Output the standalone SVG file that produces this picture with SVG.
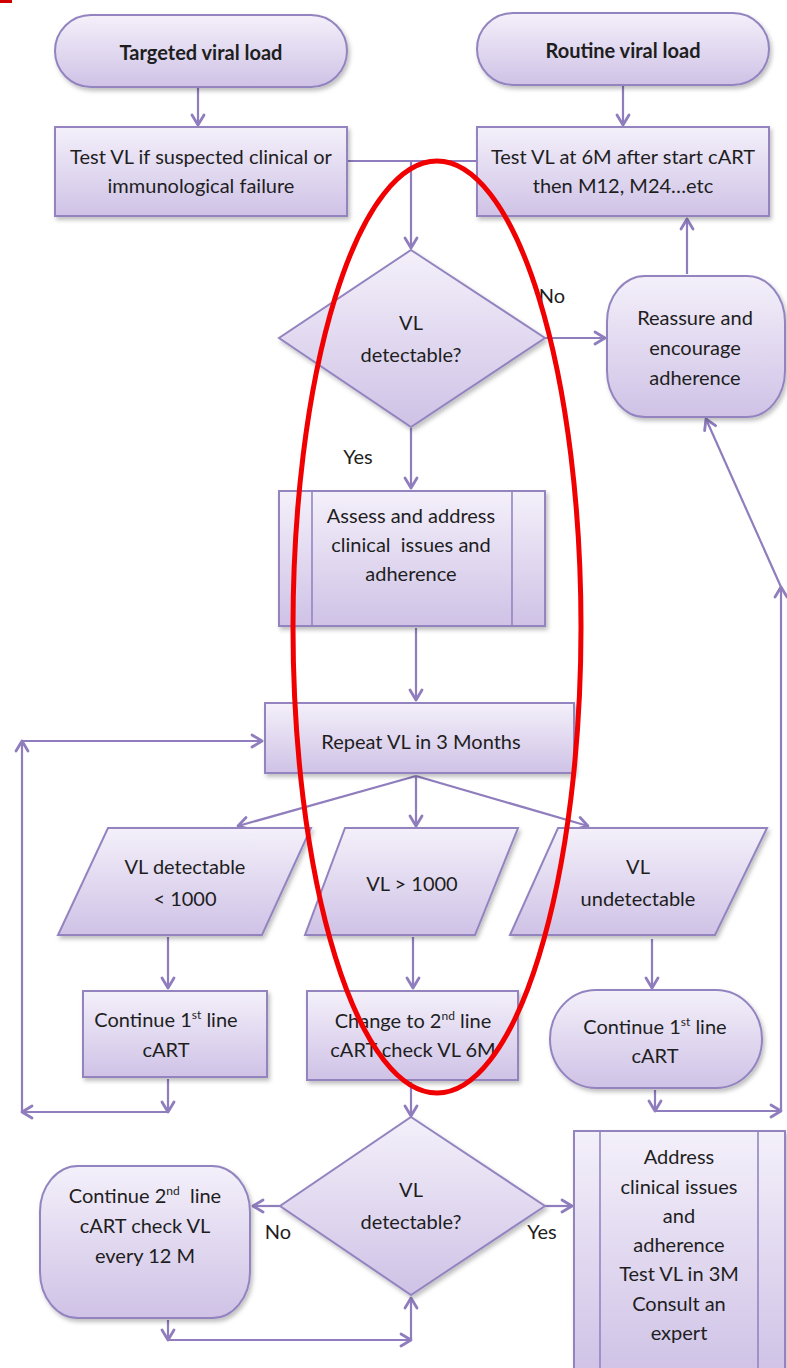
<svg xmlns="http://www.w3.org/2000/svg" width="787" height="1368" viewBox="0 0 787 1368">
<style>
.n{fill:url(#g);stroke:#9384c0;stroke-width:2;filter:url(#sh)}
.t{font-family:Lato,"Liberation Sans",sans-serif;font-size:20px;fill:#1e1e1e;text-anchor:middle}
.b{font-weight:bold}
.p{white-space:pre}
.c{fill:none;stroke:#8f7dbd;stroke-width:2.2}
.a{marker-end:url(#arr)}
.in{fill:none;stroke:#9384c0;stroke-width:1.6}
</style>
<defs>
<linearGradient id="g" x1="0" y1="0" x2="0" y2="1">
<stop offset="0" stop-color="#f4f0fa"/>
<stop offset="1" stop-color="#cfc2e6"/>
</linearGradient>
<filter id="sh" x="-10%" y="-10%" width="130%" height="130%">
<feDropShadow dx="2" dy="3" stdDeviation="2" flood-color="#000" flood-opacity="0.25"/>
</filter>
<marker id="arr" viewBox="0 0 16 16" markerWidth="16" markerHeight="16" refX="13" refY="8" orient="auto" markerUnits="userSpaceOnUse">
<path d="M3,2 L13,8 L3,14" fill="none" stroke="#8f7dbd" stroke-width="2.8" stroke-linecap="round" stroke-linejoin="round"/>
</marker>
</defs>
<rect width="787" height="1368" fill="#fff"/>
<rect x="0" y="0" width="12" height="3" fill="#d00000"/>

<g id="connectors">
<line class="c a" x1="198" y1="88" x2="198" y2="125"/>
<line class="c a" x1="623" y1="86" x2="623" y2="125"/>
<polyline class="c" points="347,161 477,161"/>
<line class="c a" x1="411" y1="161" x2="411" y2="248"/>
<line class="c a" x1="545" y1="338" x2="605" y2="338"/>
<line class="c a" x1="687" y1="274" x2="687" y2="219"/>
<line class="c a" x1="411" y1="428" x2="411" y2="488"/>
<line class="c a" x1="416" y1="628" x2="416" y2="700"/>
<line class="c a" x1="416" y1="776" x2="238" y2="826"/>
<line class="c a" x1="416" y1="776" x2="416" y2="826"/>
<line class="c a" x1="416" y1="776" x2="588" y2="826"/>
<line class="c a" x1="168" y1="937" x2="168" y2="988"/>
<line class="c a" x1="413" y1="937" x2="413" y2="988"/>
<line class="c a" x1="652" y1="939" x2="652" y2="988"/>
<line class="c a" x1="168" y1="1079" x2="168" y2="1112"/>
<line class="c a" x1="168" y1="1112" x2="22" y2="1112"/>
<line class="c a" x1="22" y1="1112" x2="22" y2="741"/>
<line class="c a" x1="22" y1="741" x2="262" y2="741"/>
<line class="c a" x1="655" y1="1090" x2="655" y2="1111"/>
<line class="c a" x1="655" y1="1111" x2="781" y2="1111"/>
<line class="c a" x1="781" y1="1111" x2="781" y2="587"/>
<line class="c a" x1="781" y1="587" x2="706" y2="419"/>
<line class="c a" x1="411" y1="1082" x2="411" y2="1116"/>
<line class="c a" x1="280" y1="1206" x2="253" y2="1206"/>
<line class="c a" x1="545" y1="1206" x2="572" y2="1206"/>
<line class="c a" x1="168" y1="1320" x2="168" y2="1340"/>
<line class="c a" x1="168" y1="1340" x2="411" y2="1340"/>
<line class="c a" x1="411" y1="1340" x2="411" y2="1298"/>
</g>

<g id="n_targeted">
<rect class="n" x="55" y="15" width="292" height="72" rx="36"/>
<text class="t b" x="201" y="60">Targeted viral load</text>
</g>
<g id="n_routine">
<rect class="n" x="477" y="13" width="292" height="72" rx="36"/>
<text class="t b" x="623" y="58">Routine viral load</text>
</g>
<g id="n_testvl_targeted">
<rect class="n" x="55" y="127" width="292" height="89"/>
<text class="t" x="201" y="164">Test VL if suspected clinical or</text>
<text class="t" x="201" y="193">immunological failure</text>
</g>
<g id="n_testvl_routine">
<rect class="n" x="477" y="127" width="292" height="89"/>
<text class="t" x="623" y="164">Test VL at 6M after start cART</text>
<text class="t" x="623" y="193">then M12, M24…etc</text>
</g>
<g id="n_diamond1">
<polygon class="n" points="411,250 545,338 411,427 279,338"/>
<text class="t" x="411" y="330">VL</text>
<text class="t" x="411" y="362">detectable?</text>
</g>
<text class="t" x="552" y="303">No</text>
<text class="t" x="358" y="464">Yes</text>
<g id="n_reassure">
<rect class="n" x="607" y="276" width="178" height="141" rx="38" ry="46"/>
<text class="t" x="695" y="325">Reassure and</text>
<text class="t" x="695" y="355">encourage</text>
<text class="t" x="695" y="385">adherence</text>
</g>
<g id="n_assess">
<rect class="n" x="279" y="491" width="266" height="135"/>
<line class="in" x1="312" y1="491" x2="312" y2="626"/>
<line class="in" x1="512" y1="491" x2="512" y2="626"/>
<text class="t" x="411" y="523">Assess and address</text>
<text class="t p" x="411" y="552" xml:space="preserve">clinical  issues and</text>
<text class="t" x="411" y="581">adherence</text>
</g>
<g id="n_repeat">
<rect class="n" x="265" y="703" width="309" height="70"/>
<text class="t" x="421" y="749">Repeat VL in 3 Months</text>
</g>
<g id="n_p1">
<polygon class="n" points="108,828 311,828 262,935 58,935"/>
<text class="t" x="185" y="874">VL detectable</text>
<text class="t" x="185" y="906">&lt; 1000</text>
</g>
<g id="n_p2">
<polygon class="n" points="345,828 518,828 475,935 305,935"/>
<text class="t" x="412" y="891">VL &gt; 1000</text>
</g>
<g id="n_p3">
<polygon class="n" points="558,828 767,828 715,935 510,935"/>
<text class="t" x="638" y="874">VL</text>
<text class="t" x="638" y="906">undetectable</text>
</g>
<g id="n_cont1_left">
<rect class="n" x="83" y="991" width="184" height="86"/>
<text class="t" x="166" y="1027">Continue 1<tspan font-size="12" dy="-8">st</tspan><tspan dy="8"> line</tspan></text>
<text class="t" x="166" y="1057">cART</text>
</g>
<g id="n_change2">
<rect class="n" x="307" y="991" width="211" height="89"/>
<text class="t" x="413" y="1028">Change to 2<tspan font-size="12" dy="-8">nd</tspan><tspan dy="8"> line</tspan></text>
<text class="t" x="413" y="1057">cART check VL 6M</text>
</g>
<g id="n_cont1_right">
<rect class="n" x="550" y="990" width="212" height="98" rx="46" ry="49"/>
<text class="t" x="655" y="1034">Continue 1<tspan font-size="12" dy="-8">st</tspan><tspan dy="8"> line</tspan></text>
<text class="t" x="655" y="1063">cART</text>
</g>
<g id="n_diamond2">
<polygon class="n" points="411,1117 545,1206 411,1295 280,1206"/>
<text class="t" x="411" y="1197">VL</text>
<text class="t" x="411" y="1229">detectable?</text>
</g>
<text class="t" x="278" y="1239">No</text>
<text class="t" x="542" y="1239">Yes</text>
<g id="n_cont2">
<rect class="n" x="40" y="1166" width="210" height="152" rx="38" ry="46"/>
<text class="t p" x="145" y="1203" xml:space="preserve">Continue 2<tspan font-size="12" dy="-8">nd</tspan><tspan dy="8">  line</tspan></text>
<text class="t" x="145" y="1233">cART check VL</text>
<text class="t" x="145" y="1263">every 12 M</text>
</g>
<g id="n_address">
<rect class="n" x="574" y="1131" width="211" height="245"/>
<line class="in" x1="600" y1="1131" x2="600" y2="1368"/>
<line class="in" x1="758" y1="1131" x2="758" y2="1368"/>
<text class="t" x="679" y="1164">Address</text>
<text class="t" x="679" y="1194">clinical issues</text>
<text class="t" x="679" y="1223">and</text>
<text class="t" x="679" y="1252">adherence</text>
<text class="t" x="679" y="1281">Test VL in 3M</text>
<text class="t" x="679" y="1311">Consult an</text>
<text class="t" x="679" y="1340">expert</text>
</g>
<ellipse cx="437" cy="627" rx="144" ry="466" fill="none" stroke="#f00000" stroke-width="5"/>
</svg>
